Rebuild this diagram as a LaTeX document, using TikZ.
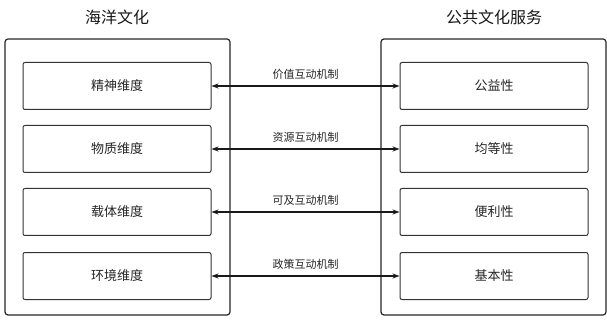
\documentclass[tikz,border=0pt]{standalone}
\usepackage{fontspec}
\newfontfamily\cjk{Noto Sans CJK SC}
\usetikzlibrary{arrows.meta}
\begin{document}
\begin{tikzpicture}[x=1pt,y=-1pt,
  outerbox/.style={draw=black!85,line width=1.2pt,rounded corners=3pt},
  innerbox/.style={draw=black!80,line width=1pt,rounded corners=2pt,minimum width=188pt,minimum height=47pt,inner sep=0pt,font=\cjk\fontsize{13}{13}\selectfont,text=black!85},
  title/.style={font=\cjk\fontsize{16}{16}\selectfont,text=black!90},
  lbl/.style={font=\cjk\fontsize{11}{11}\selectfont,text=black!85},
  link/.style={line width=1.1pt,draw=black!90,{Stealth[length=7pt,width=5pt]}-{Stealth[length=7pt,width=5pt]}}]
\useasboundingbox (0,0) rectangle (607,320);
\fill[white] (0,0) rectangle (607,320);
\node[title] (tl) at (117,17) {海洋文化};
\node[title] (tr) at (494,17) {公共文化服务};
\draw[outerbox] (5,39) rectangle (230,315);
\draw[outerbox] (381,39) rectangle (606,315);
\node[innerbox] (l1) at (117,86) {精神维度};
\node[innerbox] (l2) at (117,149) {物质维度};
\node[innerbox] (l3) at (117,212) {载体维度};
\node[innerbox] (l4) at (117,276) {环境维度};
\node[innerbox] (r1) at (494,86) {公益性};
\node[innerbox] (r2) at (494,149) {均等性};
\node[innerbox] (r3) at (494,212) {便利性};
\node[innerbox] (r4) at (494,276) {基本性};
\draw[link] (l1) -- node[lbl,above=3pt] {价值互动机制} (r1);
\draw[link] (l2) -- node[lbl,above=3pt] {资源互动机制} (r2);
\draw[link] (l3) -- node[lbl,above=3pt] {可及互动机制} (r3);
\draw[link] (l4) -- node[lbl,above=3pt] {政策互动机制} (r4);
\end{tikzpicture}
\end{document}
